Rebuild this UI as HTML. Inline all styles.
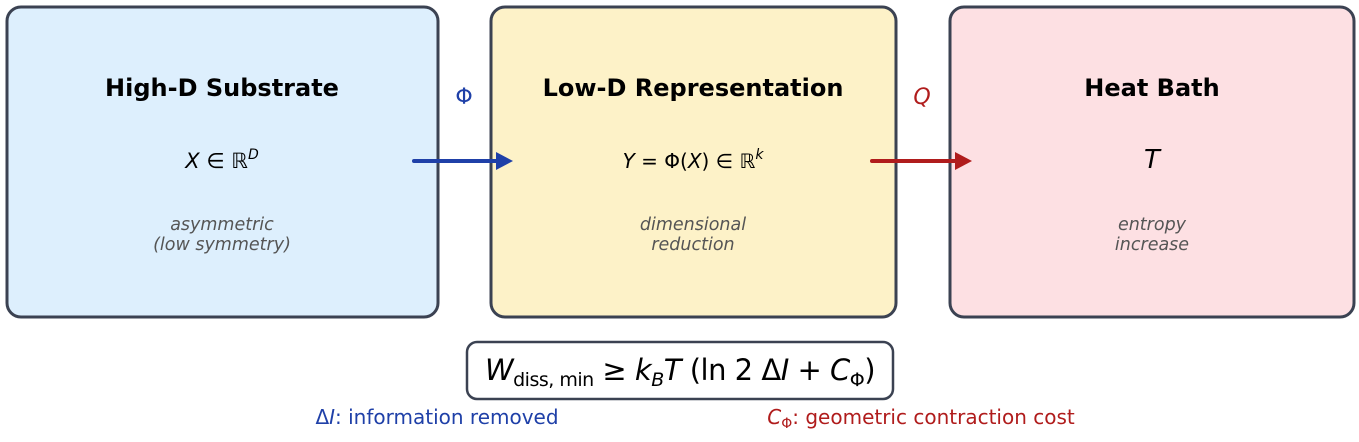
<!DOCTYPE html>
<html><head><meta charset="utf-8"><style>
html,body{margin:0;padding:0;background:#fff;}
svg{display:block;font-family:"DejaVu Sans","Liberation Sans",sans-serif;}
</style></head><body>
<svg width="1359" height="442" viewBox="0 0 1359 442" xmlns="http://www.w3.org/2000/svg">
<rect x="7" y="7" width="431" height="310" rx="14" fill="#ddeffd" stroke="#3b4252" stroke-width="3"/>
<rect x="491" y="7" width="405" height="310" rx="14" fill="#fdf2c8" stroke="#3b4252" stroke-width="3"/>
<rect x="950" y="7" width="404" height="310" rx="14" fill="#fde0e3" stroke="#3b4252" stroke-width="3"/>

<g text-anchor="middle">
<text x="222" y="96" font-size="24" font-weight="bold">High-D Substrate</text>
<text x="222" y="168" font-size="21"><tspan font-style="italic">X</tspan> ∈ ℝ<tspan font-size="14" dy="-9" font-style="italic">D</tspan></text>
<text x="222" y="230" font-size="17.5" font-style="italic" fill="#555">asymmetric</text>
<text x="222" y="250" font-size="17.5" font-style="italic" fill="#555">(low symmetry)</text>

<text x="693" y="96" font-size="24" font-weight="bold">Low-D Representation</text>
<text x="693" y="168" font-size="20"><tspan font-style="italic">Y</tspan> = Φ(<tspan font-style="italic">X</tspan>) ∈ ℝ<tspan font-size="14" dy="-9" font-style="italic">k</tspan></text>
<text x="693" y="230" font-size="17.5" font-style="italic" fill="#555">dimensional</text>
<text x="693" y="250" font-size="17.5" font-style="italic" fill="#555">reduction</text>

<text x="1152" y="96" font-size="24" font-weight="bold">Heat Bath</text>
<text x="1152" y="168" font-size="26" font-style="italic">T</text>
<text x="1152" y="230" font-size="17.5" font-style="italic" fill="#555">entropy</text>
<text x="1152" y="250" font-size="17.5" font-style="italic" fill="#555">increase</text>

<text x="464" y="104" font-size="22" fill="#1f40a8">Φ</text>
<text x="922" y="104" font-size="22" font-style="italic" fill="#b01c1c">Q</text>
</g>

<line x1="414" y1="161" x2="498" y2="161" stroke="#1f40a8" stroke-width="4" stroke-linecap="round"/>
<polygon points="496,152 513,161 496,170" fill="#1f40a8"/>
<line x1="872" y1="161" x2="956" y2="161" stroke="#b01c1c" stroke-width="4" stroke-linecap="round"/>
<polygon points="955,152 972,161 955,170" fill="#b01c1c"/>

<rect x="467" y="342" width="426" height="57" rx="10" fill="#fff" stroke="#3b4252" stroke-width="2.5"/>
<text x="680" y="380" font-size="29" text-anchor="middle" letter-spacing="-0.5"><tspan font-style="italic">W</tspan><tspan font-size="19" dy="6">diss, min</tspan><tspan dy="-6"> ≥ </tspan><tspan font-style="italic">k</tspan><tspan font-size="19" dy="6" font-style="italic">B</tspan><tspan dy="-6" font-style="italic">T</tspan> (ln 2 Δ<tspan font-style="italic">I</tspan> + <tspan font-style="italic">C</tspan><tspan font-size="19" dy="6">Φ</tspan><tspan dy="-6">)</tspan></text>

<text x="437" y="424" font-size="20" fill="#1f40a8" text-anchor="middle">Δ<tspan font-style="italic">I</tspan>: information removed</text>
<text x="921" y="424" font-size="20" fill="#b01c1c" text-anchor="middle"><tspan font-style="italic">C</tspan><tspan font-size="14" dy="4">Φ</tspan><tspan dy="-4">: geometric contraction cost</tspan></text>
</svg>
</body></html>
